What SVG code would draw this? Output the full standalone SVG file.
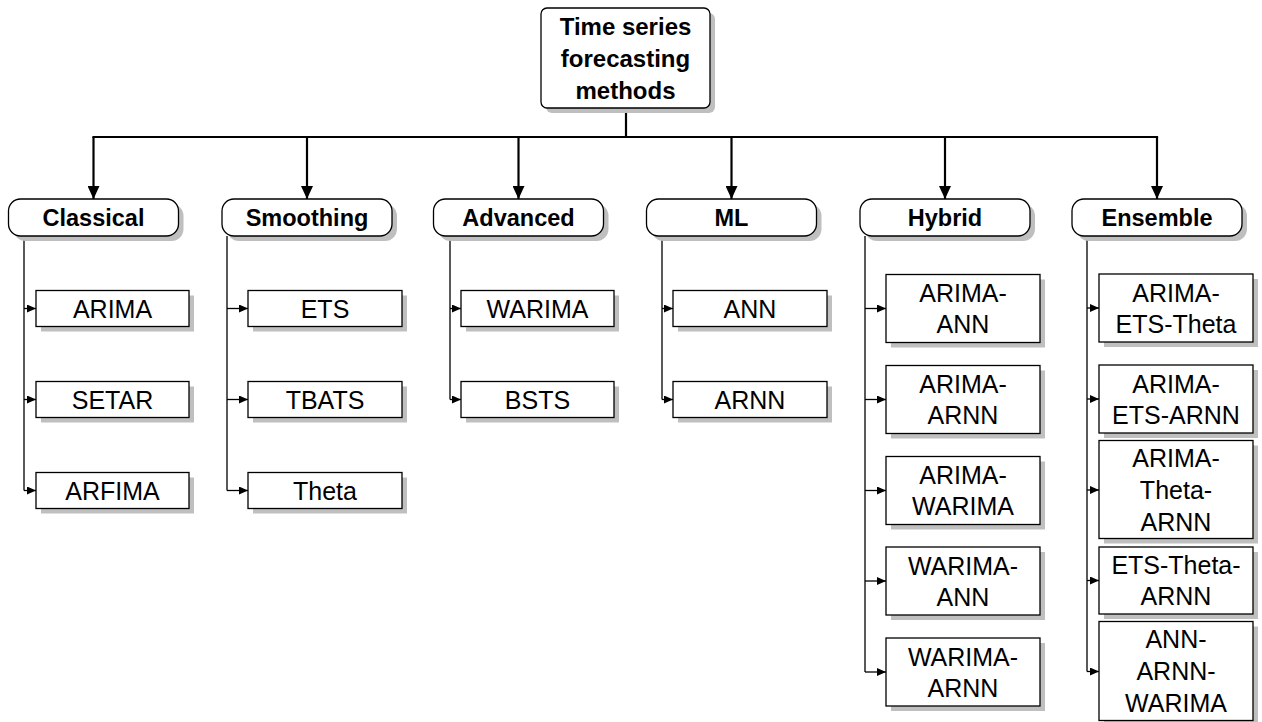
<svg xmlns="http://www.w3.org/2000/svg" width="1262" height="722" viewBox="0 0 1262 722">
<defs>
<marker id="big" markerUnits="userSpaceOnUse" markerWidth="13" markerHeight="12" refX="13" refY="6" orient="auto"><path d="M0,0 L13,6 L0,12 z" fill="#000"/></marker>
<marker id="small" markerUnits="userSpaceOnUse" markerWidth="9" markerHeight="8" refX="9" refY="4" orient="auto"><path d="M0,0 L9,4 L0,8 z" fill="#000"/></marker>
</defs>
<style>
.sh{fill:#bfbfbf;stroke:none}
.bx{fill:#fff;stroke:#000;stroke-width:1.3}
.main{stroke:#000;stroke-width:2.2;fill:none}
.br{stroke:#000;stroke-width:1.3;fill:none}
.t{font-family:"Liberation Sans",Arial,sans-serif;font-size:25px;text-anchor:middle;fill:#000}
.tb{font-family:"Liberation Sans",Arial,sans-serif;font-size:23.5px;font-weight:bold;text-anchor:middle;fill:#000}
.tr{font-family:"Liberation Sans",Arial,sans-serif;font-size:24px;font-weight:bold;text-anchor:middle;fill:#000}
</style>
<rect width="1262" height="722" fill="#fff"/>
<g id="connectors">
<line class="main" x1="626" y1="108" x2="626" y2="137"/>
<line class="main" x1="92.4" y1="137" x2="1158.1" y2="137"/>
<line class="main" x1="93.5" y1="137" x2="93.5" y2="199" marker-end="url(#big)"/>
<line class="main" x1="307" y1="137" x2="307" y2="199" marker-end="url(#big)"/>
<line class="main" x1="518.5" y1="137" x2="518.5" y2="199" marker-end="url(#big)"/>
<line class="main" x1="731.5" y1="137" x2="731.5" y2="199" marker-end="url(#big)"/>
<line class="main" x1="945" y1="137" x2="945" y2="199" marker-end="url(#big)"/>
<line class="main" x1="1157" y1="137" x2="1157" y2="199" marker-end="url(#big)"/>
<line class="br" x1="24" y1="236" x2="24" y2="490.5"/>
<line class="br" x1="24" y1="308.5" x2="36" y2="308.5" marker-end="url(#small)"/>
<line class="br" x1="24" y1="399.5" x2="36" y2="399.5" marker-end="url(#small)"/>
<line class="br" x1="24" y1="490.5" x2="36" y2="490.5" marker-end="url(#small)"/>
<line class="br" x1="227" y1="236" x2="227" y2="490.5"/>
<line class="br" x1="227" y1="308.5" x2="248" y2="308.5" marker-end="url(#small)"/>
<line class="br" x1="227" y1="399.5" x2="248" y2="399.5" marker-end="url(#small)"/>
<line class="br" x1="227" y1="490.5" x2="248" y2="490.5" marker-end="url(#small)"/>
<line class="br" x1="450" y1="236" x2="450" y2="399.5"/>
<line class="br" x1="450" y1="308.5" x2="461" y2="308.5" marker-end="url(#small)"/>
<line class="br" x1="450" y1="399.5" x2="461" y2="399.5" marker-end="url(#small)"/>
<line class="br" x1="662" y1="236" x2="662" y2="399.5"/>
<line class="br" x1="662" y1="308.5" x2="673" y2="308.5" marker-end="url(#small)"/>
<line class="br" x1="662" y1="399.5" x2="673" y2="399.5" marker-end="url(#small)"/>
<line class="br" x1="865" y1="236" x2="865" y2="672"/>
<line class="br" x1="865" y1="308.5" x2="886" y2="308.5" marker-end="url(#small)"/>
<line class="br" x1="865" y1="399.5" x2="886" y2="399.5" marker-end="url(#small)"/>
<line class="br" x1="865" y1="490.5" x2="886" y2="490.5" marker-end="url(#small)"/>
<line class="br" x1="865" y1="581" x2="886" y2="581" marker-end="url(#small)"/>
<line class="br" x1="865" y1="672" x2="886" y2="672" marker-end="url(#small)"/>
<line class="br" x1="1087" y1="236" x2="1087" y2="671.5"/>
<line class="br" x1="1087" y1="308" x2="1099" y2="308" marker-end="url(#small)"/>
<line class="br" x1="1087" y1="399" x2="1099" y2="399" marker-end="url(#small)"/>
<line class="br" x1="1087" y1="490" x2="1099" y2="490" marker-end="url(#small)"/>
<line class="br" x1="1087" y1="580.5" x2="1099" y2="580.5" marker-end="url(#small)"/>
<line class="br" x1="1087" y1="671.5" x2="1099" y2="671.5" marker-end="url(#small)"/>
</g>
<g id="root">
<rect class="sh" x="546" y="13" width="169" height="100" rx="6"/>
<rect class="bx" x="541" y="8" width="169" height="100" rx="6"/>
<text class="tr" x="625.5" y="35">Time series</text>
<text class="tr" x="625.5" y="67">forecasting</text>
<text class="tr" x="625.5" y="99">methods</text>
</g>
<g id="cat-classical">
<rect class="sh" x="13.5" y="204" width="170" height="37" rx="12"/>
<rect class="bx" x="8.5" y="199" width="170" height="37" rx="12"/>
<text class="tb" x="93.5" y="226">Classical</text>
</g>
<g id="cat-smoothing">
<rect class="sh" x="227" y="204" width="170" height="37" rx="12"/>
<rect class="bx" x="222" y="199" width="170" height="37" rx="12"/>
<text class="tb" x="307" y="226">Smoothing</text>
</g>
<g id="cat-advanced">
<rect class="sh" x="438.5" y="204" width="170" height="37" rx="12"/>
<rect class="bx" x="433.5" y="199" width="170" height="37" rx="12"/>
<text class="tb" x="518.5" y="226">Advanced</text>
</g>
<g id="cat-ml">
<rect class="sh" x="651.5" y="204" width="170" height="37" rx="12"/>
<rect class="bx" x="646.5" y="199" width="170" height="37" rx="12"/>
<text class="tb" x="731.5" y="226">ML</text>
</g>
<g id="cat-hybrid">
<rect class="sh" x="865" y="204" width="170" height="37" rx="12"/>
<rect class="bx" x="860" y="199" width="170" height="37" rx="12"/>
<text class="tb" x="945" y="226">Hybrid</text>
</g>
<g id="cat-ensemble">
<rect class="sh" x="1077" y="204" width="170" height="37" rx="12"/>
<rect class="bx" x="1072" y="199" width="170" height="37" rx="12"/>
<text class="tb" x="1157" y="226">Ensemble</text>
</g>
<g id="arima"><rect class="sh" x="41" y="295.5" width="153" height="36"/><rect class="bx" x="36" y="290.5" width="153" height="36"/><text class="t" x="112.5" y="317.5">ARIMA</text></g>
<g id="setar"><rect class="sh" x="41" y="386.5" width="153" height="36"/><rect class="bx" x="36" y="381.5" width="153" height="36"/><text class="t" x="112.5" y="408.5">SETAR</text></g>
<g id="arfima"><rect class="sh" x="41" y="477.5" width="153" height="36"/><rect class="bx" x="36" y="472.5" width="153" height="36"/><text class="t" x="112.5" y="499.5">ARFIMA</text></g>
<g id="ets"><rect class="sh" x="253" y="295.5" width="154" height="36"/><rect class="bx" x="248" y="290.5" width="154" height="36"/><text class="t" x="325" y="317.5">ETS</text></g>
<g id="tbats"><rect class="sh" x="253" y="386.5" width="154" height="36"/><rect class="bx" x="248" y="381.5" width="154" height="36"/><text class="t" x="325" y="408.5">TBATS</text></g>
<g id="theta"><rect class="sh" x="253" y="477.5" width="154" height="36"/><rect class="bx" x="248" y="472.5" width="154" height="36"/><text class="t" x="325" y="499.5">Theta</text></g>
<g id="warima"><rect class="sh" x="466" y="295.5" width="153" height="36"/><rect class="bx" x="461" y="290.5" width="153" height="36"/><text class="t" x="537.5" y="317.5">WARIMA</text></g>
<g id="bsts"><rect class="sh" x="466" y="386.5" width="153" height="36"/><rect class="bx" x="461" y="381.5" width="153" height="36"/><text class="t" x="537.5" y="408.5">BSTS</text></g>
<g id="ann"><rect class="sh" x="678" y="295.5" width="154" height="36"/><rect class="bx" x="673" y="290.5" width="154" height="36"/><text class="t" x="750" y="317.5">ANN</text></g>
<g id="arnn"><rect class="sh" x="678" y="386.5" width="154" height="36"/><rect class="bx" x="673" y="381.5" width="154" height="36"/><text class="t" x="750" y="408.5">ARNN</text></g>
<g id="arima-ann"><rect class="sh" x="891" y="279.5" width="154" height="68"/><rect class="bx" x="886" y="274.5" width="154" height="68"/><text class="t" x="963" y="302">ARIMA-</text><text class="t" x="963" y="333">ANN</text></g>
<g id="arima-arnn"><rect class="sh" x="891" y="370.5" width="154" height="68"/><rect class="bx" x="886" y="365.5" width="154" height="68"/><text class="t" x="963" y="393">ARIMA-</text><text class="t" x="963" y="424">ARNN</text></g>
<g id="arima-warima"><rect class="sh" x="891" y="461.5" width="154" height="68"/><rect class="bx" x="886" y="456.5" width="154" height="68"/><text class="t" x="963" y="484">ARIMA-</text><text class="t" x="963" y="515">WARIMA</text></g>
<g id="warima-ann"><rect class="sh" x="891" y="552" width="154" height="68"/><rect class="bx" x="886" y="547" width="154" height="68"/><text class="t" x="963" y="574.5">WARIMA-</text><text class="t" x="963" y="605.5">ANN</text></g>
<g id="warima-arnn"><rect class="sh" x="891" y="643" width="154" height="68"/><rect class="bx" x="886" y="638" width="154" height="68"/><text class="t" x="963" y="665.5">WARIMA-</text><text class="t" x="963" y="696.5">ARNN</text></g>
<g id="arima-ets-theta"><rect class="sh" x="1104" y="279" width="154" height="68"/><rect class="bx" x="1099" y="274" width="154" height="68"/><text class="t" x="1176" y="301.5">ARIMA-</text><text class="t" x="1176" y="332.5">ETS-Theta</text></g>
<g id="arima-ets-arnn"><rect class="sh" x="1104" y="370" width="154" height="68"/><rect class="bx" x="1099" y="365" width="154" height="68"/><text class="t" x="1176" y="392.5">ARIMA-</text><text class="t" x="1176" y="423.5">ETS-ARNN</text></g>
<g id="arima-theta-arnn"><rect class="sh" x="1104" y="445.5" width="154" height="98"/><rect class="bx" x="1099" y="440.5" width="154" height="98"/><text class="t" x="1176" y="467">ARIMA-</text><text class="t" x="1176" y="499">Theta-</text><text class="t" x="1176" y="531">ARNN</text></g>
<g id="ets-theta-arnn"><rect class="sh" x="1104" y="552" width="154" height="67"/><rect class="bx" x="1099" y="547" width="154" height="67"/><text class="t" x="1176" y="574">ETS-Theta-</text><text class="t" x="1176" y="605">ARNN</text></g>
<g id="ann-arnn-warima"><rect class="sh" x="1104" y="626.5" width="154" height="99"/><rect class="bx" x="1099" y="621.5" width="154" height="99"/><text class="t" x="1176" y="648">ANN-</text><text class="t" x="1176" y="680">ARNN-</text><text class="t" x="1176" y="712">WARIMA</text></g>
</svg>
